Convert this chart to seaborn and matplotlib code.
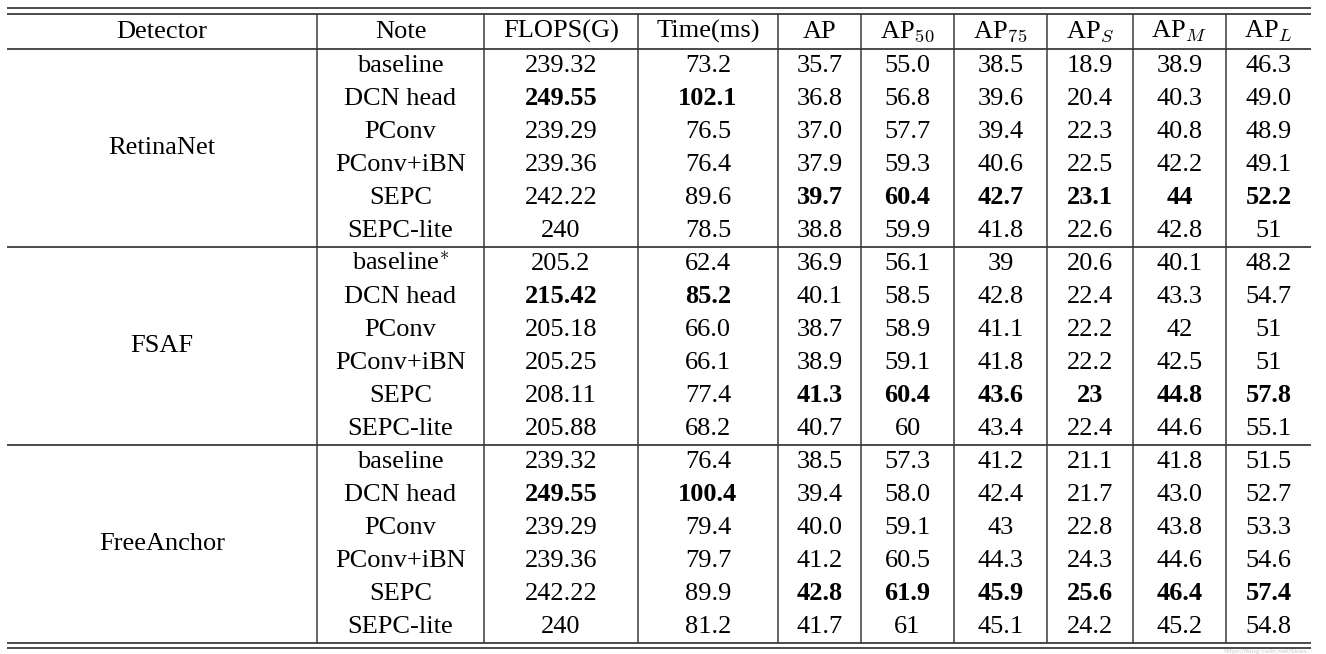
import matplotlib
matplotlib.use("Agg")
import matplotlib.pyplot as plt
import seaborn as sns
import pandas as pd

# ---------------- data ----------------
detectors = ["RetinaNet", "FSAF", "FreeAnchor"]
notes = ["baseline", "DCN head", "PConv", "PConv+iBN", "SEPC", "SEPC-lite"]
fsaf_baseline_note = "baseline$^{*}$"

header = ["Detector", "Note", "FLOPS(G)", "Time(ms)", "AP", "AP$_{50}$",
          "AP$_{75}$", "AP$_{S}$", "AP$_{M}$", "AP$_{L}$"]

flops = ["239.32", "249.55", "239.29", "239.36", "242.22", "240",
         "205.2", "215.42", "205.18", "205.25", "208.11", "205.88",
         "239.32", "249.55", "239.29", "239.36", "242.22", "240"]
time_ms = ["73.2", "102.1", "76.5", "76.4", "89.6", "78.5",
           "62.4", "85.2", "66.0", "66.1", "77.4", "68.2",
           "76.4", "100.4", "79.4", "79.7", "89.9", "81.2"]
ap = ["35.7", "36.8", "37.0", "37.9", "39.7", "38.8",
      "36.9", "40.1", "38.7", "38.9", "41.3", "40.7",
      "38.5", "39.4", "40.0", "41.2", "42.8", "41.7"]
ap50 = ["55.0", "56.8", "57.7", "59.3", "60.4", "59.9",
        "56.1", "58.5", "58.9", "59.1", "60.4", "60",
        "57.3", "58.0", "59.1", "60.5", "61.9", "61"]
ap75 = ["38.5", "39.6", "39.4", "40.6", "42.7", "41.8",
        "39", "42.8", "41.1", "41.8", "43.6", "43.4",
        "41.2", "42.4", "43", "44.3", "45.9", "45.1"]
aps = ["18.9", "20.4", "22.3", "22.5", "23.1", "22.6",
       "20.6", "22.4", "22.2", "22.2", "23", "22.4",
       "21.1", "21.7", "22.8", "24.3", "25.6", "24.2"]
apm = ["38.9", "40.3", "40.8", "42.2", "44", "42.8",
       "40.1", "43.3", "42", "42.5", "44.8", "44.6",
       "41.8", "43.0", "43.8", "44.6", "46.4", "45.2"]
apl = ["46.3", "49.0", "48.9", "49.1", "52.2", "51",
       "48.2", "54.7", "51", "51", "57.8", "55.1",
       "51.5", "52.7", "53.3", "54.6", "57.4", "54.8"]

# bold rules: DCN head -> cost columns bold, SEPC -> accuracy columns bold
bold_cost_note = "DCN head"
bold_acc_note = "SEPC"

watermark = "https://blog.csdn.net/Skies_"

# ---------------- table frame ----------------
rows = []
for d in detectors:
    for n in notes:
        rows.append((d, n))
df = pd.DataFrame({
    "Detector": [r[0] for r in rows],
    "Note": [r[1] for r in rows],
    "FLOPS(G)": flops, "Time(ms)": time_ms, "AP": ap, "AP50": ap50,
    "AP75": ap75, "APS": aps, "APM": apm, "APL": apl,
})
value_cols = ["FLOPS(G)", "Time(ms)", "AP", "AP50", "AP75", "APS", "APM", "APL"]
cost_cols = {"FLOPS(G)", "Time(ms)"}

# ---------------- style / layout ----------------
sns.set_theme(style="white")
plt.rcParams["font.family"] = ["Liberation Serif", "DejaVu Serif"]
plt.rcParams["mathtext.fontset"] = "cm"
plt.rcParams["mathtext.rm"] = "Liberation Serif"

W, H = 1326, 654
fig = plt.figure(figsize=(W / 100, H / 100), dpi=100)
ax = fig.add_axes([0, 0, 1, 1])
ax.set_xlim(0, W)
ax.set_ylim(H, 0)
ax.axis("off")

col_edges = [7, 317, 484, 638, 778, 861, 954, 1047, 1133, 1226, 1311]
col_centers = [(col_edges[i] + col_edges[i + 1]) / 2 for i in range(len(col_edges) - 1)]
top1, top2 = 8, 13.5
header_bottom = 48.5
row_h = 33.0
n_rows = len(df)
bottom1 = header_bottom + row_h * n_rows
bottom2 = bottom1 + 5
fs = 19
base_off = 23.5

line_c = "#1a1a1a"
vline_c = "#3a3a3a"
lw = 1.1

# horizontal rules
for y in (top1, top2, header_bottom, bottom1, bottom2):
    ax.plot([col_edges[0], col_edges[-1]], [y, y], color=line_c, lw=lw, solid_capstyle="butt")
group_n = len(notes)
for g in range(1, len(detectors)):
    y = header_bottom + row_h * group_n * g
    ax.plot([col_edges[0], col_edges[-1]], [y, y], color=line_c, lw=lw, solid_capstyle="butt")
# vertical rules (inner only)
for x in col_edges[1:-1]:
    ax.plot([x, x], [top2, bottom1], color=vline_c, lw=lw, solid_capstyle="butt")

# header
for j, h in enumerate(header):
    ax.text(col_centers[j], header_bottom - 10.5, h, ha="center", va="baseline", fontsize=fs, color="black")

# detectors (group centered)
for g, d in enumerate(detectors):
    yc = header_bottom + row_h * group_n * (g + 0.5)
    ax.text(col_centers[0], yc + 6.5, d, ha="center", va="baseline", fontsize=fs, color="black")

# rows
for i, r in df.iterrows():
    yb = header_bottom + row_h * i + base_off
    note = r["Note"]
    label = note
    if r["Detector"] == "FSAF" and note == "baseline":
        label = fsaf_baseline_note
    ax.text(col_centers[1], yb, label, ha="center", va="baseline", fontsize=fs, color="black")
    for j, c in enumerate(value_cols):
        bold = (note == bold_cost_note and c in cost_cols) or \
               (note == bold_acc_note and c not in cost_cols)
        ax.text(col_centers[j + 2], yb, r[c], ha="center", va="baseline", fontsize=fs,
                fontweight="bold" if bold else "normal", color="black")

# faint watermark present in the source image (kept small, below the bottom rule)
ax.text(1310, H - 0.5, watermark, ha="right", va="bottom",
        fontsize=4.5, color="#c8c8c8", family="DejaVu Sans")

fig.savefig("out.png", dpi=100)
